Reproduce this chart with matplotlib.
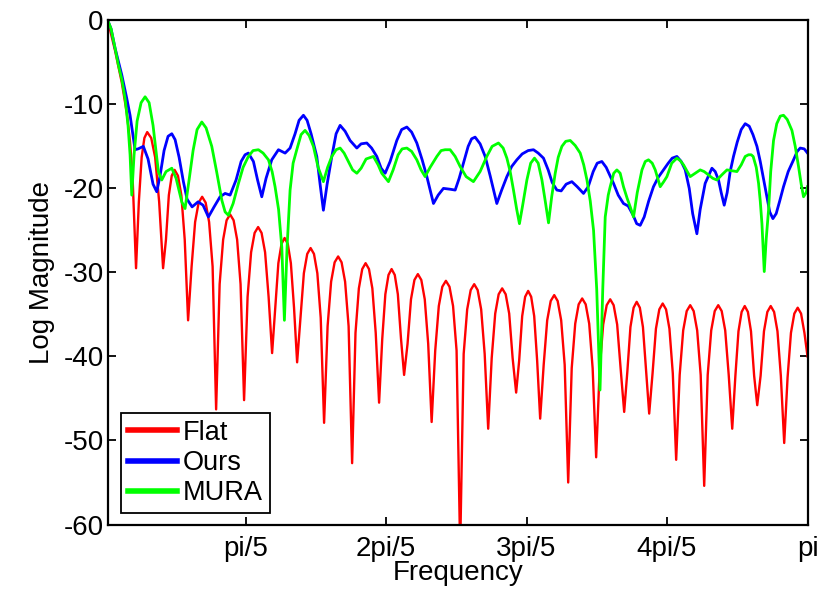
import matplotlib
matplotlib.use('Agg')
import matplotlib.pyplot as plt

# ---------------- data (frequency as fraction of pi, magnitude in dB) ----------------
red_f = [0.0038, 0.0142, 0.0238, 0.0309, 0.0356, 0.0391,
         0.0441, 0.0481, 0.0521, 0.0560, 0.0600, 0.0657, 0.0713, 0.0770,
         0.0826, 0.0867, 0.0908, 0.0949, 0.0990, 0.1038, 0.1086, 0.1134,
         0.1182, 0.1232, 0.1282, 0.1332, 0.1382, 0.1432, 0.1481, 0.1531,
         0.1581, 0.1631, 0.1681, 0.1730, 0.1780, 0.1830, 0.1880, 0.1929,
         0.1979, 0.2029, 0.2079, 0.2129, 0.2179, 0.2228, 0.2278, 0.2328,
         0.2378, 0.2423, 0.2467, 0.2512, 0.2556, 0.2601, 0.2645, 0.2690,
         0.2734, 0.2782, 0.2830, 0.2878, 0.2926, 0.2974, 0.3022, 0.3070,
         0.3118, 0.3168, 0.3218, 0.3268, 0.3318, 0.3367, 0.3417, 0.3467,
         0.3517, 0.3565, 0.3613, 0.3661, 0.3709, 0.3757, 0.3805, 0.3853,
         0.3901, 0.3946, 0.3990, 0.4035, 0.4079, 0.4124, 0.4168, 0.4213,
         0.4257, 0.4306, 0.4355, 0.4404, 0.4453, 0.4502, 0.4551, 0.4600,
         0.4649, 0.4700, 0.4751, 0.4801, 0.4852, 0.4903, 0.4954, 0.5004,
         0.5055, 0.5105, 0.5155, 0.5205, 0.5255, 0.5304, 0.5354, 0.5404,
         0.5454, 0.5504, 0.5554, 0.5603, 0.5653, 0.5703, 0.5753, 0.5802,
         0.5852, 0.5895, 0.5938, 0.5980, 0.6023, 0.6066, 0.6109, 0.6151,
         0.6194, 0.6244, 0.6294, 0.6344, 0.6394, 0.6443, 0.6493, 0.6543,
         0.6593, 0.6643, 0.6693, 0.6742, 0.6792, 0.6842, 0.6892, 0.6941,
         0.6991, 0.7041, 0.7091, 0.7141, 0.7191, 0.7240, 0.7290, 0.7340,
         0.7390, 0.7435, 0.7479, 0.7524, 0.7568, 0.7613, 0.7657, 0.7702,
         0.7746, 0.7794, 0.7842, 0.7890, 0.7938, 0.7986, 0.8034, 0.8082,
         0.8130, 0.8180, 0.8230, 0.8280, 0.8330, 0.8379, 0.8429, 0.8479,
         0.8529, 0.8579, 0.8629, 0.8679, 0.8729, 0.8778, 0.8828, 0.8878,
         0.8928, 0.8973, 0.9017, 0.9062, 0.9106, 0.9151, 0.9195, 0.9240,
         0.9284, 0.9332, 0.9380, 0.9428, 0.9476, 0.9524, 0.9572, 0.9620,
         0.9668, 0.9716, 0.9764, 0.9812, 0.9860, 0.9908, 0.9956, 1.0000]
red_db = [0.0, -3.6, -7.4, -11.0, -14.5, -18.5,
          -29.5, -21.6, -16.3, -14.0, -13.3, -14.0, -16.3, -21.6,
          -29.5, -26.1, -20.8, -18.5, -17.8, -18.5, -20.8, -26.1,
          -35.7, -29.3, -24.0, -21.7, -21.0, -21.7, -24.0, -29.3,
          -46.3, -31.4, -26.1, -23.8, -23.1, -23.8, -26.1, -31.4,
          -45.2, -32.9, -27.6, -25.3, -24.6, -25.3, -27.6, -32.9,
          -39.6, -34.2, -28.9, -26.6, -25.9, -26.6, -28.9, -34.2,
          -40.7, -35.4, -30.1, -27.8, -27.1, -27.8, -30.1, -35.4,
          -47.9, -36.4, -31.1, -28.8, -28.1, -28.8, -31.1, -36.4,
          -52.7, -37.2, -31.9, -29.6, -28.9, -29.6, -31.9, -37.2,
          -45.5, -37.9, -32.6, -30.3, -29.6, -30.3, -32.6, -37.9,
          -42.2, -38.5, -33.2, -30.9, -30.2, -30.9, -33.2, -38.5,
          -47.8, -39.3, -34.0, -31.7, -31.0, -31.7, -34.0, -39.3,
          -63.0, -39.7, -34.4, -32.1, -31.4, -32.1, -34.4, -39.7,
          -48.6, -40.2, -34.9, -32.6, -31.9, -32.6, -34.9, -40.2,
          -44.3, -40.5, -35.2, -32.9, -32.2, -32.9, -35.2, -40.5,
          -47.4, -41.0, -35.7, -33.4, -32.7, -33.4, -35.7, -41.0,
          -55.0, -41.4, -36.1, -33.8, -33.1, -33.8, -36.1, -41.4,
          -52.0, -41.5, -36.2, -33.9, -33.2, -33.9, -36.2, -41.5,
          -46.6, -41.8, -36.5, -34.2, -33.5, -34.2, -36.5, -41.8,
          -46.8, -42.0, -36.7, -34.4, -33.7, -34.4, -36.7, -42.0,
          -52.3, -42.2, -36.9, -34.6, -33.9, -34.6, -36.9, -42.2,
          -55.4, -42.2, -36.9, -34.6, -33.9, -34.6, -36.9, -42.2,
          -48.6, -42.3, -37.0, -34.7, -34.0, -34.7, -37.0, -42.3,
          -45.8, -42.3, -37.0, -34.7, -34.0, -34.7, -37.0, -42.3,
          -50.3, -42.5, -37.2, -34.9, -34.2, -34.9, -37.2, -40.0]

blue_f = [0.0038, 0.0085, 0.0142, 0.0238, 0.0309, 0.0356, 0.0403, 0.0427, 0.0470, 0.0545,
          0.0612, 0.0683, 0.0736, 0.0783, 0.0840, 0.0897, 0.0950, 0.0997, 0.1054, 0.1115,
          0.1168, 0.1239, 0.1324, 0.1395, 0.1471, 0.1552, 0.1637, 0.1709, 0.1780, 0.1865,
          0.1937, 0.1993, 0.2040, 0.2112, 0.2171, 0.2231, 0.2292, 0.2373, 0.2468, 0.2563,
          0.2634, 0.2705, 0.2762, 0.2824, 0.2876, 0.2933, 0.3014, 0.3061, 0.3108, 0.3161,
          0.3228, 0.3289, 0.3346, 0.3417, 0.3488, 0.3584, 0.3645, 0.3726, 0.3794, 0.3868,
          0.3930, 0.3987, 0.4058, 0.4153, 0.4222, 0.4296, 0.4364, 0.4438, 0.4514, 0.4581,
          0.4675, 0.4742, 0.4817, 0.4912, 0.4984, 0.5041, 0.5102, 0.5169, 0.5218, 0.5268,
          0.5339, 0.5411, 0.5482, 0.5577, 0.5646, 0.5720, 0.5788, 0.5862, 0.5938, 0.6023,
          0.6099, 0.6166, 0.6241, 0.6308, 0.6365, 0.6432, 0.6493, 0.6564, 0.6645, 0.6721,
          0.6811, 0.6878, 0.6949, 0.7006, 0.7072, 0.7134, 0.7184, 0.7238, 0.7305, 0.7380,
          0.7447, 0.7518, 0.7568, 0.7618, 0.7675, 0.7739, 0.7807, 0.7874, 0.7950, 0.8017,
          0.8074, 0.8140, 0.8202, 0.8259, 0.8316, 0.8365, 0.8425, 0.8472, 0.8543, 0.8639,
          0.8686, 0.8733, 0.8771, 0.8814, 0.8856, 0.8899, 0.8946, 0.8999, 0.9056, 0.9113,
          0.9170, 0.9223, 0.9280, 0.9327, 0.9377, 0.9422, 0.9462, 0.9507, 0.9554, 0.9604,
          0.9658, 0.9725, 0.9801, 0.9853, 0.9896, 0.9953, 1.0000]
blue_db = [0.0, -1.0, -3.3, -6.5, -9.3, -11.3, -14.0, -15.4, -15.3, -15.0,
           -16.5, -19.5, -20.4, -18.5, -15.5, -13.8, -13.5, -14.2, -16.3, -19.2,
           -21.3, -22.2, -21.6, -22.0, -23.4, -22.2, -21.0, -20.6, -20.8, -19.0,
           -16.8, -16.0, -15.8, -16.8, -19.0, -21.0, -18.8, -16.6, -15.4, -15.8,
           -15.2, -13.5, -11.9, -11.3, -11.9, -13.5, -16.2, -19.5, -22.6, -19.5,
           -16.2, -13.5, -12.5, -13.2, -14.3, -15.2, -14.7, -14.6, -15.2, -16.2,
           -17.6, -18.2, -16.8, -14.3, -13.0, -12.7, -13.3, -14.6, -16.6, -18.6,
           -21.8, -20.8, -20.0, -20.1, -20.2, -18.8, -17.0, -15.0, -14.1, -13.9,
           -14.7, -16.2, -18.5, -21.8, -20.2, -18.6, -17.4, -16.6, -15.9, -15.5,
           -15.4, -15.8, -16.4, -17.8, -19.3, -20.2, -20.3, -19.5, -19.2, -19.8,
           -20.6, -19.8, -18.0, -17.0, -16.8, -17.5, -18.4, -19.4, -20.8, -21.8,
           -22.1, -23.2, -24.2, -24.4, -23.4, -21.5, -19.8, -18.7, -17.8, -17.0,
           -16.4, -16.2, -16.8, -17.8, -20.0, -23.0, -25.4, -22.5, -19.4, -17.6,
           -18.0, -19.0, -20.5, -22.0, -20.5, -18.0, -16.2, -14.5, -13.0, -12.3,
           -12.6, -13.6, -15.0, -16.8, -19.0, -21.0, -22.8, -23.6, -23.0, -21.5,
           -19.8, -18.0, -16.6, -15.6, -15.2, -15.3, -15.8]

green_f = [0.0038, 0.0085, 0.0142, 0.0189, 0.0238, 0.0285, 0.0327, 0.0356, 0.0380, 0.0413,
           0.0456, 0.0513, 0.0570, 0.0627, 0.0683, 0.0759, 0.0807, 0.0868, 0.0950, 0.1011,
           0.1092, 0.1139, 0.1196, 0.1253, 0.1310, 0.1377, 0.1438, 0.1519, 0.1588, 0.1662,
           0.1709, 0.1756, 0.1823, 0.1899, 0.1965, 0.2040, 0.2107, 0.2183, 0.2250, 0.2326,
           0.2378, 0.2420, 0.2470, 0.2516, 0.2553, 0.2591, 0.2634, 0.2677, 0.2729, 0.2790,
           0.2847, 0.2904, 0.2966, 0.3033, 0.3108, 0.3168, 0.3228, 0.3289, 0.3346, 0.3403,
           0.3464, 0.3524, 0.3584, 0.3645, 0.3716, 0.3820, 0.3887, 0.3939, 0.4034, 0.4101,
           0.4172, 0.4229, 0.4296, 0.4364, 0.4438, 0.4499, 0.4556, 0.4627, 0.4723, 0.4784,
           0.4841, 0.4912, 0.4984, 0.5055, 0.5140, 0.5244, 0.5339, 0.5434, 0.5510, 0.5600,
           0.5667, 0.5720, 0.5767, 0.5814, 0.5860, 0.5899, 0.5945, 0.6005, 0.6059, 0.6113,
           0.6166, 0.6219, 0.6266, 0.6313, 0.6358, 0.6408, 0.6451, 0.6503, 0.6558, 0.6622,
           0.6693, 0.6764, 0.6814, 0.6860, 0.6907, 0.6954, 0.6999, 0.7046, 0.7085, 0.7120,
           0.7163, 0.7191, 0.7241, 0.7286, 0.7333, 0.7380, 0.7433, 0.7476, 0.7523, 0.7576,
           0.7643, 0.7690, 0.7736, 0.7789, 0.7832, 0.7903, 0.7953, 0.7998, 0.8067, 0.8140,
           0.8188, 0.8235, 0.8288, 0.8330, 0.8401, 0.8472, 0.8529, 0.8591, 0.8651, 0.8710,
           0.8779, 0.8853, 0.8921, 0.8995, 0.9056, 0.9113, 0.9160, 0.9198, 0.9226, 0.9270,
           0.9303, 0.9327, 0.9351, 0.9384, 0.9412, 0.9445, 0.9476, 0.9516, 0.9562, 0.9612,
           0.9658, 0.9711, 0.9778, 0.9825, 0.9872, 0.9910, 0.9943, 0.9981, 1.0000]
green_db = [0.0, -1.0, -3.3, -5.3, -7.0, -9.3, -12.5, -16.0, -20.8, -16.0,
            -12.0, -9.8, -9.1, -9.8, -12.5, -18.0, -19.0, -18.0, -17.6, -18.8,
            -21.6, -22.4, -19.0, -15.5, -13.0, -12.1, -12.8, -15.0, -18.0, -21.4,
            -22.8, -23.2, -21.8, -19.4, -17.5, -16.2, -15.5, -15.4, -15.8, -16.6,
            -18.0, -19.8, -22.5, -27.0, -35.7, -27.0, -20.2, -17.0, -15.4, -13.6,
            -13.1, -13.7, -15.0, -17.5, -19.2, -17.5, -16.2, -15.4, -15.2, -15.8,
            -16.8, -17.8, -18.2, -17.6, -16.5, -16.2, -17.2, -18.2, -19.2, -17.8,
            -16.0, -15.3, -15.2, -15.6, -16.6, -17.8, -18.6, -17.5, -16.2, -15.5,
            -15.4, -15.4, -16.2, -17.4, -18.6, -19.2, -18.0, -16.2, -15.0, -14.6,
            -15.2, -16.4, -18.0, -20.2, -22.5, -24.2, -22.0, -19.0, -17.0, -16.4,
            -17.0, -19.0, -21.5, -24.1, -21.0, -18.2, -16.3, -15.0, -14.4, -14.3,
            -14.9, -15.8, -17.2, -19.0, -21.5, -25.0, -32.0, -44.0, -32.0, -23.4,
            -20.8, -19.8, -18.2, -17.8, -18.2, -19.8, -21.2, -22.2, -23.4, -20.5,
            -17.8, -16.8, -16.6, -17.0, -17.8, -19.8, -19.2, -18.6, -17.0, -16.4,
            -16.7, -17.2, -18.0, -18.6, -18.2, -17.8, -18.0, -18.4, -18.8, -19.0,
            -18.4, -17.8, -17.9, -18.0, -17.2, -16.2, -16.0, -16.0, -16.2, -17.5,
            -19.4, -21.5, -24.2, -29.9, -26.0, -22.6, -18.0, -14.3, -12.3, -11.4,
            -11.3, -11.8, -13.1, -15.0, -17.4, -19.5, -21.0, -20.5, -19.8]

series_labels = ['Flat', 'Ours', 'MURA']
xtick_pos = [0.2, 0.4, 0.6, 0.8, 1.0]
xtick_labels = ['pi/5', '2pi/5', '3pi/5', '4pi/5', 'pi']
ytick_pos = [-60, -50, -40, -30, -20, -10, 0]

# ---------------- drawing ----------------
plt.rcParams['font.family'] = ['Liberation Sans', 'DejaVu Sans']
plt.rcParams['axes.unicode_minus'] = False

fig = plt.figure(figsize=(8.23, 5.89), dpi=100)
ax = fig.add_axes([0.1309, 0.1095, 0.8503, 0.8560])

ax.plot(red_f, red_db, color=(1, 0, 0), lw=1.7, label=series_labels[0])
ax.plot(blue_f, blue_db, color=(0, 0, 1), lw=2.0, label=series_labels[1])
ax.plot(green_f, green_db, color=(0, 1, 0), lw=2.0, label=series_labels[2])

ax.set_xlim(0.0038, 1.0)
ax.set_ylim(-60, 0)
ax.set_xticks(xtick_pos)
ax.set_xticklabels(xtick_labels)
ax.set_yticks(ytick_pos)
ax.tick_params(direction='in', top=True, right=True, length=5.5, width=1.3,
               labelsize=20, colors='black')
ax.tick_params(axis='x', pad=8)
ax.tick_params(axis='y', pad=3)
for s in ax.spines.values():
    s.set_linewidth(1.6)

ax.set_xlabel('Frequency', fontsize=20, labelpad=-1)
ax.set_ylabel('Log Magnitude', fontsize=20, labelpad=6)

leg = ax.legend(loc='lower left', bbox_to_anchor=(0.019, 0.022), borderaxespad=0,
                fancybox=False, edgecolor='black', framealpha=1, fontsize=19.5,
                handlelength=1.8, handletextpad=0.22, labelspacing=0.16, borderpad=0.26)
leg.get_frame().set_linewidth(1.3)
for line in leg.get_lines():
    line.set_linewidth(4)

fig.savefig('out.png', dpi=100)
